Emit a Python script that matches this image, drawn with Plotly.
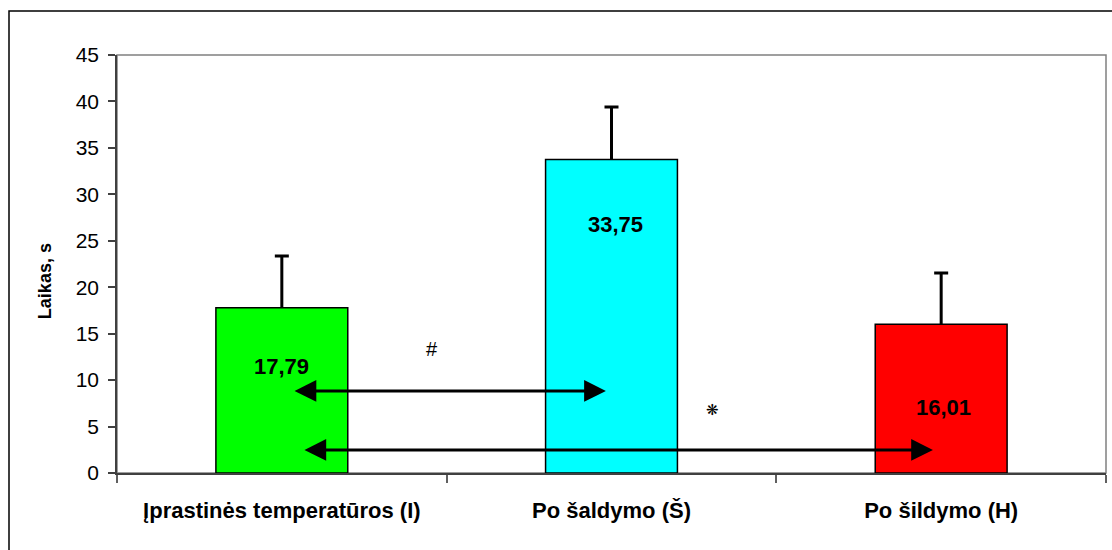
import plotly.graph_objects as go

categories = ["Įprastinės temperatūros (I)", "Po šaldymo (Š)", "Po šildymo (H)"]
means = [17.79, 33.75, 16.01]
sd_plus = [5.57, 5.65, 5.52]
bar_colors = ["#00FF00", "#00FFFF", "#FF0000"]
value_labels = ["17,79", "33,75", "16,01"]
label_y = [11.5, 26.7, 7.1]
label_xshift = [0, 4, 2]

# significance arrows: (x_start, x_end, y)
arrows = [(0.034, 0.983, 8.83), (0.064, 1.975, 2.48)]
marks = [("#", 0.455, 13.35), ("❋", 1.305, 6.8)]

y_ticks = list(range(0, 50, 5))

FONT = "Liberation Sans, Arial, sans-serif"

fig = go.Figure()
# error bars (their lower part is hidden under the bars drawn next)
fig.add_trace(go.Bar(
    x=categories, y=means, width=0.4,
    marker=dict(color="rgba(0,0,0,0)", line=dict(width=0)),
    error_y=dict(type="data", symmetric=False, array=sd_plus,
                 arrayminus=[2] * len(means), color="black",
                 thickness=3, width=7),
    showlegend=False, hoverinfo="skip",
))
fig.add_trace(go.Bar(
    x=categories, y=means, width=0.4,
    marker=dict(color=bar_colors, line=dict(color="black", width=1.5)),
    showlegend=False, hoverinfo="skip",
))

annotations = []
for i, (t, yv, xs) in enumerate(zip(value_labels, label_y, label_xshift)):
    annotations.append(dict(x=i, y=yv, xref="x", yref="y", text=t, showarrow=False,
                            xshift=xs, font=dict(family=FONT, size=22, color="black", weight="bold")))
for x0, x1, yv in arrows:
    annotations.append(dict(x=x1, y=yv, ax=x0, ay=yv, xref="x", yref="y", axref="x", ayref="y",
                            text="", showarrow=True, arrowhead=2, arrowside="end+start",
                            arrowsize=1.45, arrowwidth=3, arrowcolor="black",
                            standoff=0, startstandoff=0))
for t, xv, yv in marks:
    annotations.append(dict(x=xv, y=yv, xref="x", yref="y", text=t, showarrow=False,
                            font=dict(family=FONT if t == "#" else "DejaVu Sans",
                                      size=20 if t == "#" else 15, color="black")))
annotations.append(dict(x=-0.0728, y=0.459, xref="paper", yref="paper", text="Laikas, s",
                        textangle=-90, showarrow=False, xanchor="center", yanchor="middle",
                        font=dict(family=FONT, size=18, color="black", weight="bold")))

fig.update_layout(
    width=1112, height=550,
    margin=dict(l=117, r=6, t=55, b=77),
    paper_bgcolor="white", plot_bgcolor="white",
    barmode="overlay",
    annotations=annotations,
    shapes=[
        dict(type="rect", xref="paper", yref="paper", x0=0, x1=1, y0=0, y1=1,
             line=dict(color="#808080", width=1.5), layer="below"),
        dict(type="rect", xref="paper", yref="paper", x0=-0.1092, x1=1.03, y0=-0.25, y1=1.105,
             line=dict(color="black", width=1.5), layer="below"),
    ],
    xaxis=dict(type="category", range=[-0.5, 2.5], tickson="boundaries",
               ticks="outside", ticklen=8, tickwidth=1.5, tickcolor="#606060",
               showline=True, linecolor="#404040", linewidth=1.5, showgrid=False,
               tickfont=dict(family=FONT, size=22, color="black", weight="bold"),
               ticklabelstandoff=17),
    yaxis=dict(range=[0, 45], tickvals=y_ticks, ticks="outside", ticklen=7, tickwidth=1.5,
               tickcolor="#404040", showline=True, linecolor="#404040", linewidth=1.5,
               showgrid=False, zeroline=False,
               tickfont=dict(family=FONT, size=21, color="black"), ticklabelstandoff=5),
)

fig.write_html("out.html", config={"displayModeBar": False},
               post_script="document.body.style.margin='0';")
